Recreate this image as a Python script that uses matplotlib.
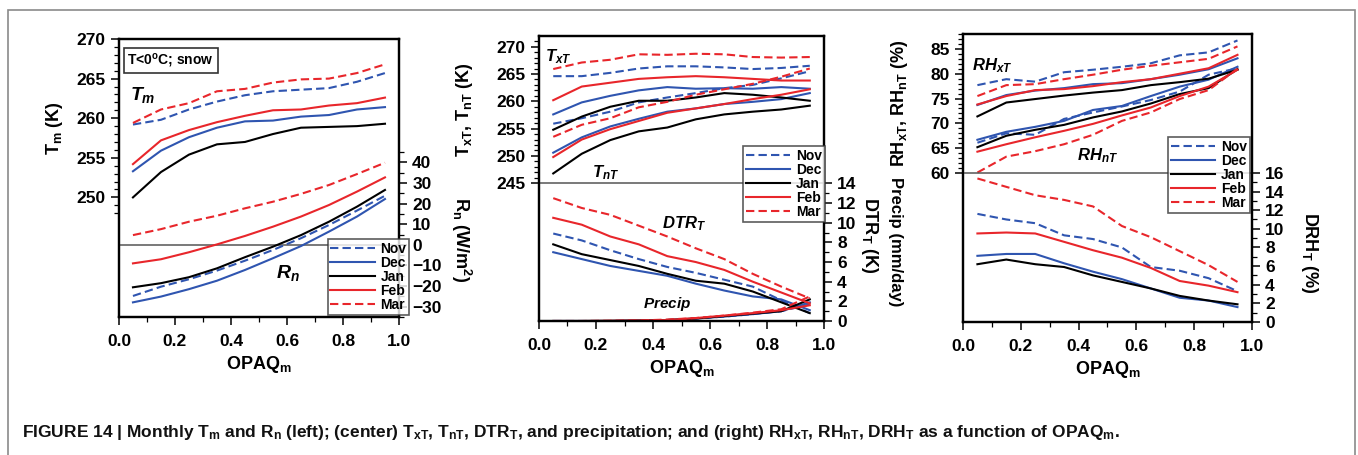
import numpy as np
import matplotlib
matplotlib.use('Agg')
import matplotlib.pyplot as plt
from matplotlib.ticker import FixedLocator
from matplotlib.patches import Rectangle

plt.rcParams['font.family'] = ['Liberation Sans', 'DejaVu Sans']
plt.rcParams['font.weight'] = 'bold'
plt.rcParams['axes.labelweight'] = 'bold'
plt.rcParams['mathtext.fontset'] = 'custom'
plt.rcParams['mathtext.rm'] = 'Liberation Sans:bold'
plt.rcParams['mathtext.bf'] = 'Liberation Sans:bold'
plt.rcParams['mathtext.it'] = 'Liberation Sans:bold:italic'

opaq = [0.05, 0.15, 0.25, 0.35, 0.45, 0.55, 0.65, 0.75, 0.85, 0.95]
months = ['Nov', 'Dec', 'Jan', 'Feb', 'Mar']

# monthly mean temperature (K)
tm = {
    'Nov': [259.2, 259.8, 261.1, 262.1, 262.9, 263.4, 263.6, 263.8, 264.6, 265.7],
    'Dec': [253.3, 255.9, 257.6, 258.8, 259.6, 259.7, 260.2, 260.4, 261.1, 261.4],
    'Jan': [250.0, 253.2, 255.4, 256.7, 257.0, 258.0, 258.8, 258.9, 259.0, 259.3],
    'Feb': [254.2, 257.2, 258.5, 259.5, 260.3, 261.0, 261.1, 261.6, 261.9, 262.6],
    'Mar': [259.4, 261.1, 261.9, 263.4, 263.7, 264.5, 264.9, 265.0, 265.7, 266.8],
}
# net radiation (W/m2)
rn = {
    'Nov': [-24.8, -20.3, -16.7, -12.5, -7.7, -2.5, 3.2, 9.6, 16.6, 23.8],
    'Dec': [-27.9, -25.1, -21.5, -17.4, -12.2, -6.5, -0.6, 6.4, 13.7, 22.2],
    'Jan': [-20.6, -18.6, -15.7, -11.4, -6.0, -0.9, 4.7, 11.2, 18.5, 26.6],
    'Feb': [-9.0, -7.0, -3.6, 0.2, 4.3, 8.8, 13.7, 19.3, 25.8, 32.7],
    'Mar': [4.7, 7.6, 11.2, 14.1, 17.7, 20.9, 24.7, 29.0, 34.3, 39.8],
}
# daily max / min temperature (K)
txt = {
    'Nov': [264.6, 264.6, 265.2, 266.0, 266.4, 266.4, 266.2, 265.9, 266.1, 266.5],
    'Dec': [257.6, 259.8, 261.0, 262.0, 262.6, 262.3, 262.4, 262.3, 262.6, 262.3],
    'Jan': [254.8, 257.2, 259.0, 260.1, 260.1, 260.7, 261.5, 261.2, 260.7, 260.1],
    'Feb': [260.2, 262.7, 263.4, 264.1, 264.4, 264.6, 264.4, 264.1, 263.8, 263.8],
    'Mar': [265.9, 267.1, 267.6, 268.6, 268.5, 268.7, 268.6, 268.1, 268.0, 268.1],
}
tnt = {
    'Nov': [255.9, 256.9, 258.1, 259.8, 260.7, 261.5, 262.4, 263.0, 264.2, 265.5],
    'Dec': [250.6, 253.4, 255.4, 256.8, 258.1, 258.7, 259.5, 259.9, 260.4, 261.5],
    'Jan': [246.8, 250.4, 252.9, 254.5, 255.2, 256.7, 257.6, 258.1, 258.5, 259.2],
    'Feb': [249.8, 253.0, 254.9, 256.4, 257.9, 258.7, 259.5, 260.4, 261.2, 262.2],
    'Mar': [253.5, 255.7, 256.9, 258.9, 259.9, 261.2, 262.2, 263.2, 264.5, 266.0],
}
dtr = {
    'Nov': [8.9, 8.2, 7.2, 6.3, 5.5, 4.9, 4.2, 3.5, 2.1, 0.8],
    'Dec': [7.0, 6.3, 5.6, 5.1, 4.6, 3.8, 3.1, 2.5, 2.2, 1.1],
    'Jan': [7.8, 6.8, 6.2, 5.6, 4.8, 4.1, 3.8, 3.0, 1.9, 0.8],
    'Feb': [10.5, 9.8, 8.6, 7.8, 6.6, 6.0, 5.2, 4.0, 2.9, 1.8],
    'Mar': [12.5, 11.5, 10.8, 9.7, 8.6, 7.4, 6.3, 4.8, 3.5, 2.3],
}
precip = {
    'Nov': [0.0, 0.0, 0.0, 0.05, 0.1, 0.25, 0.45, 0.7, 1.0, 1.7],
    'Dec': [0.0, 0.0, 0.0, 0.05, 0.1, 0.25, 0.45, 0.7, 1.0, 1.9],
    'Jan': [0.0, 0.0, 0.02, 0.05, 0.1, 0.25, 0.5, 0.75, 1.0, 2.2],
    'Feb': [0.0, 0.0, 0.02, 0.05, 0.1, 0.3, 0.55, 0.8, 1.1, 1.6],
    'Mar': [0.0, 0.0, 0.02, 0.05, 0.15, 0.3, 0.55, 0.85, 1.2, 2.5],
}
# relative humidity at Tmax / Tmin and its diurnal range (%)
rhxt = {
    'Nov': [77.7, 78.9, 78.4, 80.3, 80.8, 81.4, 82.1, 83.7, 84.3, 86.7],
    'Dec': [73.7, 75.7, 76.6, 77.1, 77.9, 78.1, 78.9, 79.8, 80.9, 83.1],
    'Jan': [71.4, 74.2, 74.9, 75.6, 76.2, 76.7, 77.7, 78.3, 79.0, 80.8],
    'Feb': [73.8, 75.5, 76.7, 76.9, 77.5, 78.3, 78.9, 80.0, 81.1, 83.8],
    'Mar': [75.5, 77.7, 77.9, 78.9, 79.8, 80.8, 81.6, 82.3, 83.0, 85.5],
}
rhnt = {
    'Nov': [66.1, 68.0, 67.7, 70.9, 72.2, 73.4, 74.7, 76.4, 79.8, 81.1],
    'Dec': [66.7, 68.3, 69.3, 70.5, 72.7, 73.5, 75.5, 77.4, 78.8, 81.4],
    'Jan': [65.2, 67.5, 68.7, 69.7, 71.2, 72.4, 74.0, 75.9, 77.1, 80.9],
    'Feb': [64.3, 65.8, 67.2, 68.5, 69.9, 71.6, 73.2, 75.5, 77.4, 80.8],
    'Mar': [60.1, 63.3, 64.4, 65.8, 67.7, 70.5, 72.2, 74.9, 76.7, 81.0],
}
drh = {
    'Nov': [11.6, 11.0, 10.6, 9.3, 8.9, 8.0, 5.9, 5.5, 4.7, 3.3],
    'Dec': [7.1, 7.3, 7.3, 6.3, 5.4, 4.6, 3.6, 2.6, 2.3, 1.6],
    'Jan': [6.2, 6.7, 6.2, 5.9, 5.0, 4.3, 3.6, 2.8, 2.3, 1.9],
    'Feb': [9.5, 9.6, 9.5, 8.6, 7.7, 6.9, 5.8, 4.4, 3.9, 3.2],
    'Mar': [15.4, 14.5, 13.6, 13.1, 12.4, 10.3, 9.1, 7.6, 6.1, 4.3],
}

colors = {'Nov': '#2f55b0', 'Dec': '#2f55b0', 'Jan': 'black', 'Feb': '#e8262b', 'Mar': '#e8262b'}
dashed = {'Nov': True, 'Dec': False, 'Jan': False, 'Feb': False, 'Mar': True}

fig = plt.figure(figsize=(13.58, 4.55), dpi=100)
fig.patches.append(Rectangle((8 / 1358, -0.05), 1347 / 1358, 1.05 - 10 / 455,
                             transform=fig.transFigure, fill=False,
                             edgecolor='#8a8a8a', lw=1.2))


def plot_month(ax, m, y, label=None):
    style = dict(color=colors[m], lw=1.5)
    if dashed[m]:
        ax.plot(opaq, y, dashes=(4, 2), label=label, **style)
    else:
        ax.plot(opaq, y, label=label, **style)


def setup_panel(rect, ylim_l, ylim_r, major_l, minor_l, major_r, minor_r, split):
    ax = fig.add_axes(rect)
    axr = ax.twinx()
    ax.set_xlim(0, 1)
    ax.set_ylim(*ylim_l)
    axr.set_ylim(*ylim_r)
    ax.set_xticks(np.arange(0, 1.01, 0.2))
    ax.xaxis.set_minor_locator(FixedLocator(np.arange(0.1, 1.0, 0.2)))
    ax.set_xticklabels(['%.1f' % v for v in np.arange(0, 1.01, 0.2)])
    ax.yaxis.set_major_locator(FixedLocator(major_l))
    ax.yaxis.set_minor_locator(FixedLocator(minor_l))
    axr.yaxis.set_major_locator(FixedLocator(major_r))
    axr.yaxis.set_minor_locator(FixedLocator(minor_r))
    for a in (ax, axr):
        a.tick_params(which='major', direction='out', length=6, width=1.1, labelsize=12.5)
        a.tick_params(which='minor', direction='out', length=3.5, width=0.9)
        for s in a.spines.values():
            s.set_linewidth(1.6)
    ax.tick_params(axis='x', which='major', pad=6)
    # divider between the upper and lower curve sets, on the right-hand scale
    axr.axhline(split, color='#555555', lw=1.1)
    return ax, axr


def legend_handles():
    hs = []
    for m in months:
        if dashed[m]:
            hs.append(plt.Line2D([], [], color=colors[m], lw=1.5, dashes=(4, 2)))
        else:
            hs.append(plt.Line2D([], [], color=colors[m], lw=1.5))
    return hs


def add_legend(axr, loc):
    leg = axr.legend(handles=legend_handles(), labels=months, loc='upper left',
                     bbox_to_anchor=loc, fontsize=10, frameon=True, fancybox=False,
                     handlelength=3.2, handletextpad=0.4, borderpad=0.2,
                     labelspacing=0.0, borderaxespad=0)
    leg.get_frame().set_edgecolor('#333333')
    leg.get_frame().set_linewidth(1.2)
    return leg


# left panel: Tm and Rn
ax1, ax1r = setup_panel([0.0876, 0.3033, 0.2062, 0.611], (234.9, 270), (-35, 99.8),
                        np.arange(250, 271, 5), np.arange(248, 271, 1),
                        np.arange(-30, 41, 10), np.arange(-35, 46, 5), 0)
for m in months:
    plot_month(ax1, m, tm[m])
    plot_month(ax1r, m, rn[m])
add_legend(ax1r, (0.745, 0.28))
ax1.text(0.03, 0.955, 'T<0$^{\\rm o}$C; snow', transform=ax1.transAxes, fontsize=10,
         va='top', ha='left',
         bbox=dict(facecolor='white', edgecolor='#333333', lw=1.2, pad=2.5))
ax1.text(0.04, 0.78, '$T_{m}$', transform=ax1.transAxes, fontsize=14)
ax1.text(0.56, 0.14, '$R_{n}$', transform=ax1.transAxes, fontsize=14)
ax1.set_xlabel('OPAQ$_{\\rm m}$', fontsize=13, labelpad=4)
ax1.text(-0.23, 0.68, 'T$_{\\rm m}$ (K)', transform=ax1.transAxes, rotation=90,
         fontsize=13, ha='center', va='center')
ax1r.text(1.22, 0.28, 'R$_{\\rm n}$ (W/m$^{\\rm 2}$)', transform=ax1r.transAxes,
          rotation=270, fontsize=13, ha='center', va='center')

# center panel: TxT, TnT, DTR and precipitation
ax2, ax2r = setup_panel([0.3969, 0.2945, 0.2099, 0.6264], (219.8, 271.95), (0, 29.0),
                        np.arange(245, 271, 5), np.arange(245, 272, 1),
                        np.arange(0, 15, 2), np.arange(0, 15, 1), 14)
for m in months:
    plot_month(ax2, m, txt[m])
    plot_month(ax2, m, tnt[m])
    plot_month(ax2r, m, dtr[m])
    plot_month(ax2r, m, precip[m])
add_legend(ax2r, (0.716, 0.613))
ax2.text(0.02, 0.91, '$T_{xT}$', transform=ax2.transAxes, fontsize=12)
ax2.text(0.185, 0.505, '$T_{nT}$', transform=ax2.transAxes, fontsize=12)
ax2.text(0.43, 0.325, '$DTR_{T}$', transform=ax2.transAxes, fontsize=12)
ax2.text(0.365, 0.045, '$Precip$', transform=ax2.transAxes, fontsize=11)
ax2.set_xlabel('OPAQ$_{\\rm m}$', fontsize=13, labelpad=4)
ax2.text(-0.26, 0.74, 'T$_{\\rm xT}$, T$_{\\rm nT}$ (K)', transform=ax2.transAxes,
         rotation=90, fontsize=13, ha='center', va='center')
ax2r.text(1.16, 0.30, 'DTR$_{\\rm T}$ (K)', transform=ax2r.transAxes, rotation=270,
          fontsize=13, ha='center', va='center')
ax2r.text(1.25, 0.28, 'Precip (mm/day)', transform=ax2r.transAxes, rotation=270,
          fontsize=12, ha='center', va='center')

# right panel: RHxT, RHnT and DRH
ax3, ax3r = setup_panel([0.7091, 0.2923, 0.2128, 0.633], (30, 88), (0, 30.9),
                        np.arange(60, 86, 5), np.arange(60, 89, 1),
                        np.arange(0, 17, 2), np.arange(0, 17, 1), 16)
for m in months:
    plot_month(ax3, m, rhxt[m])
    plot_month(ax3, m, rhnt[m])
    plot_month(ax3r, m, drh[m])
add_legend(ax3r, (0.71, 0.642))
ax3.text(0.03, 0.875, '$RH_{xT}$', transform=ax3.transAxes, fontsize=12)
ax3.text(0.395, 0.56, '$RH_{nT}$', transform=ax3.transAxes, fontsize=12)
ax3.set_xlabel('OPAQ$_{\\rm m}$', fontsize=13, labelpad=4)
ax3.text(-0.22, 0.76, 'RH$_{\\rm xT}$, RH$_{\\rm nT}$ (%)', transform=ax3.transAxes,
         rotation=90, fontsize=13, ha='center', va='center')
ax3r.text(1.2, 0.24, 'DRH$_{\\rm T}$ (%)', transform=ax3r.transAxes, rotation=270,
          fontsize=13, ha='center', va='center')

fig.text(22 / 1358, 1 - 432 / 455,
         'FIGURE 14 | Monthly T$_{\\rm m}$ and R$_{\\rm n}$ (left); (center) T$_{\\rm xT}$, '
         'T$_{\\rm nT}$, DTR$_{\\rm T}$, and precipitation; and (right) RH$_{\\rm xT}$, '
         'RH$_{\\rm nT}$, DRH$_{\\rm T}$ as a function of OPAQ$_{\\rm m}$.',
         fontsize=12.5, va='center', ha='left', color='#111111')

fig.savefig('out.png', dpi=100)
